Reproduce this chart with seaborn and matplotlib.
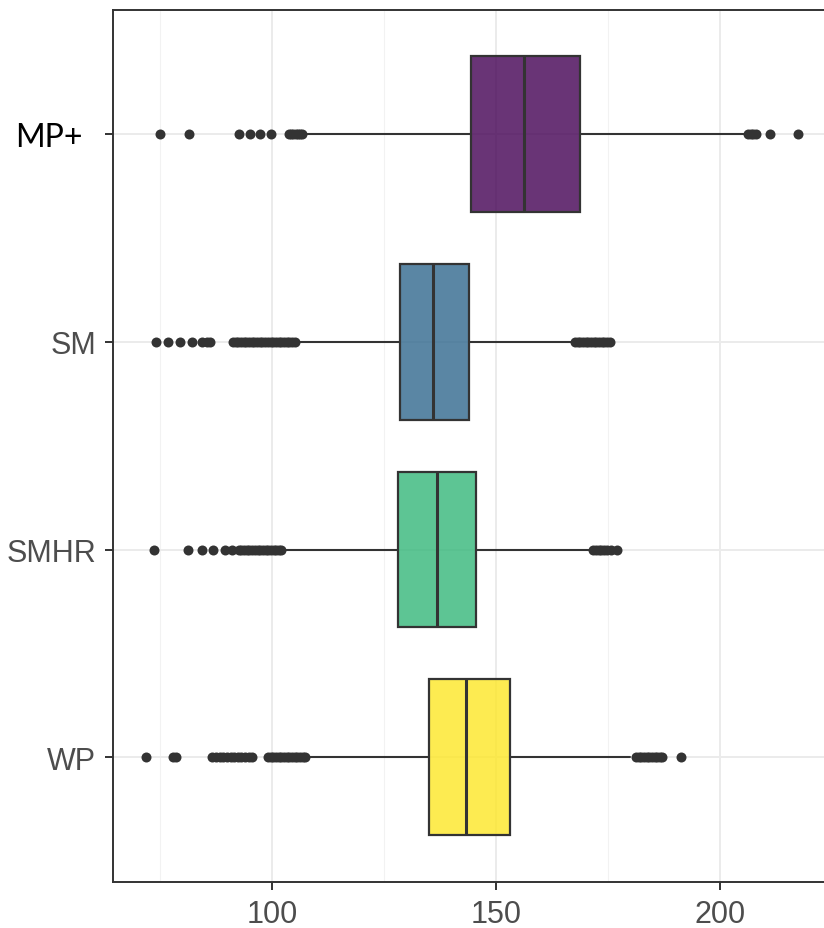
import matplotlib
matplotlib.use("Agg")
import matplotlib.pyplot as plt
import matplotlib.transforms as mtransforms
from matplotlib.colors import to_rgba
from matplotlib.ticker import MultipleLocator, FixedLocator
import pandas as pd
import seaborn as sns

# Categories, top to bottom
groups = ["MP+", "SM", "SMHR", "WP"]
box_colors = ["#440154", "#31688E", "#35B779", "#FDE725"]

# Box summaries
q1 = [144.4, 128.6, 128.2, 135.1]
median = [156.3, 136.0, 136.8, 143.4]
q3 = [168.8, 143.9, 145.6, 153.1]
whisker_low = [107.9, 105.8, 102.4, 108.3]
whisker_high = [205.3, 166.7, 171.3, 180.0]

# Outlying points per group
out_mp = [75.1, 81.5, 92.6, 95.1, 97.3, 99.8,
          103.8, 104.3, 104.8, 105.3, 105.8, 106.3, 106.8,
          206.2, 206.8, 207.4, 208.0, 211.1, 217.4]
out_sm = [74.2, 76.8, 79.5, 82.2, 84.5, 85.5, 86.3,
          91.3, 91.9, 92.5, 93.1, 93.7, 94.3, 94.9, 95.5, 96.1, 96.7,
          97.3, 97.9, 98.5, 99.1, 99.7, 100.3, 100.9, 101.5, 102.1, 102.7,
          103.3, 103.9, 104.5, 105.1,
          167.6, 168.2, 168.8, 169.4, 170.0, 170.6, 171.2, 171.8, 172.4,
          173.0, 173.6, 174.2, 174.8, 175.4]
out_smhr = [73.7, 81.3, 84.4, 86.9, 89.5, 91.0,
            92.6, 93.2, 93.8, 94.4, 95.0, 95.6, 96.2, 96.8, 97.4, 98.0,
            98.6, 99.2, 99.8, 100.4, 101.0, 101.6, 102.0,
            171.7, 172.3, 172.9, 173.5, 174.1, 174.7, 175.6, 177.0]
out_wp = [71.9, 78.0, 78.7, 86.6, 87.6, 88.4, 89.2, 90.0, 90.8, 91.6,
          92.4, 93.2, 94.0, 94.8, 95.5,
          99.1, 99.7, 100.3, 100.9, 101.5, 102.1, 102.7, 103.3, 103.9,
          104.5, 105.1, 105.7, 106.3, 106.9, 107.4,
          181.2, 181.8, 182.4, 183.0, 183.6, 184.2, 184.8, 185.4, 186.0,
          186.6, 187.1, 191.2]

x_ticks = [100, 150, 200]

sns.set_theme(style="ticks")
plt.rcParams["font.family"] = ["Liberation Sans", "DejaVu Sans"]

fig = plt.figure(figsize=(8.24, 9.29), dpi=100)
ax = fig.add_axes([0.1368, 0.0498, 0.872, 0.9386])

outliers = pd.DataFrame({
    "group": (["MP+"] * len(out_mp) + ["SM"] * len(out_sm)
              + ["SMHR"] * len(out_smhr) + ["WP"] * len(out_wp)),
    "value": out_mp + out_sm + out_smhr + out_wp,
})

sns.stripplot(data=outliers, x="value", y="group", order=groups,
              jitter=False, color="#333333", size=7.2, linewidth=0,
              ax=ax, zorder=4)

stats = []
for i, g in enumerate(groups):
    stats.append(dict(label=g, med=median[i], q1=q1[i], q3=q3[i],
                      whislo=whisker_low[i], whishi=whisker_high[i],
                      fliers=[]))

bp = ax.bxp(stats, positions=list(range(len(groups))), widths=0.75,
            orientation="horizontal", patch_artist=True, showfliers=False,
            showcaps=False, manage_ticks=False,
            boxprops=dict(edgecolor="#333333", linewidth=1.6),
            medianprops=dict(color="#333333", linewidth=2.2),
            whiskerprops=dict(color="#333333", linewidth=1.5))
for patch, c in zip(bp["boxes"], box_colors):
    patch.set_facecolor(to_rgba(c, 0.8))
    patch.set_zorder(3)
for ln in bp["medians"]:
    ln.set_zorder(3.5)
for ln in bp["whiskers"]:
    ln.set_zorder(2.5)

ax.set_xlim(64.5, 224.8)
ax.set_ylim(3.6, -0.6)
ax.xaxis.set_major_locator(FixedLocator(x_ticks))
ax.xaxis.set_minor_locator(MultipleLocator(25))
ax.set_axisbelow(True)
ax.grid(which="major", color="#EBEBEB", linewidth=1.4)
ax.grid(which="minor", axis="x", color="#F2F2F2", linewidth=0.8)

for sp in ax.spines.values():
    sp.set_visible(True)
    sp.set_color("#333333")
    sp.set_linewidth(1.4)

ax.tick_params(axis="both", which="major", length=5.8, width=1.4,
               color="#333333", labelsize=22, labelcolor="#4D4D4D")
ax.tick_params(axis="x", pad=6.5)
ax.tick_params(axis="y", pad=6)
ax.tick_params(which="minor", length=0)
ax.set_xlabel("")
ax.set_ylabel("")

# The first category label uses its own face and colour
for lbl in ax.get_yticklabels():
    if lbl.get_text() == "MP+":
        lbl.set_fontfamily(["Lato", "DejaVu Sans"])
        lbl.set_color("black")
        lbl.set_fontsize(23)
        lbl.set_transform(lbl.get_transform() + mtransforms.ScaledTranslation(
            -14 / 100, 0, fig.dpi_scale_trans))

fig.savefig("out.png", dpi=100)
